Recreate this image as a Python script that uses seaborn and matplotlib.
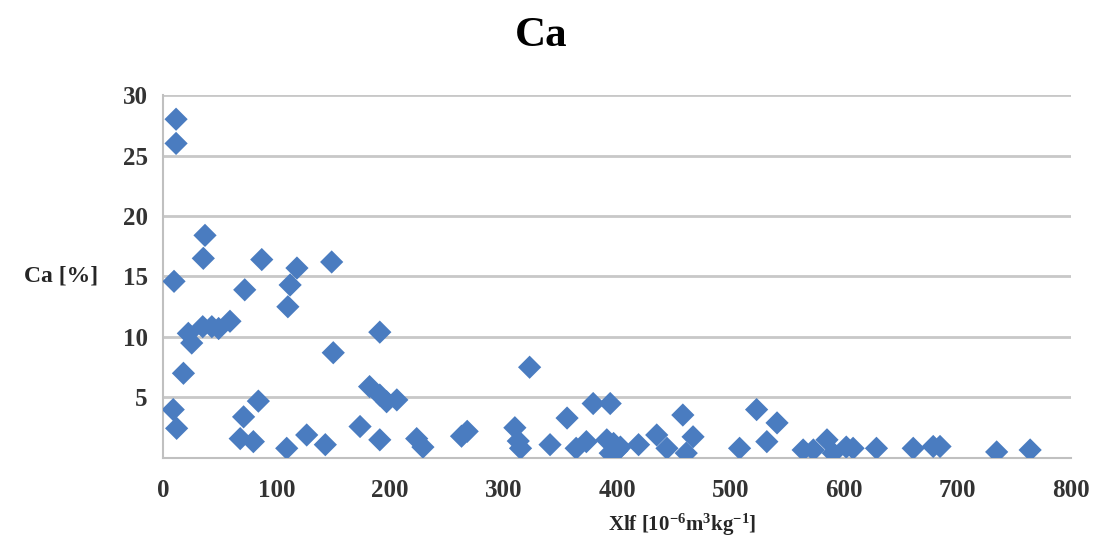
import pandas as pd
import matplotlib.pyplot as plt
import seaborn as sns

# data
xlf = [11.5, 11.5, 9.7, 37, 35.5, 22.3, 25.3, 35, 43, 49, 59, 18, 9, 12,
       72, 87, 84, 71, 68, 79.6, 109, 126.6, 143, 110, 112, 118, 148.6, 150,
       191, 182, 191, 197, 206, 173.6, 191, 223.5, 229, 263, 268,
       323, 310, 313, 315, 341, 356, 379, 394, 364, 373, 391, 394, 397, 400,
       403, 419, 435, 444, 458, 467, 461, 508, 523, 541, 532,
       564, 573, 585, 590.5, 602, 608, 628.6, 661, 678.6, 684.6, 734.5, 764]
ca = [28.0, 26.0, 14.6, 18.4, 16.5, 10.3, 9.5, 10.85, 10.85, 10.7, 11.3, 7.0, 4.0, 2.45,
      13.9, 16.4, 4.7, 3.4, 1.6, 1.35, 0.8, 1.9, 1.1, 12.5, 14.3, 15.7, 16.2, 8.7,
      10.4, 5.9, 5.2, 4.65, 4.8, 2.6, 1.5, 1.6, 0.9, 1.8, 2.2,
      7.5, 2.5, 1.4, 0.8, 1.1, 3.3, 4.5, 4.5, 0.8, 1.35, 1.5, 0.4, 1.2, 0.6,
      0.9, 1.1, 1.9, 0.8, 3.55, 1.75, 0.4, 0.8, 4.0, 2.9, 1.35,
      0.66, 0.66, 1.5, 0.4, 0.9, 0.8, 0.8, 0.8, 0.95, 0.95, 0.5, 0.66]

x_ticks = [0, 100, 200, 300, 400, 500, 600, 700, 800]
y_ticks = [5, 10, 15, 20, 25, 30]

df = pd.DataFrame({"xlf": xlf, "ca": ca})

sns.set_theme(style="white")
plt.rcParams["font.family"] = ["Liberation Serif", "DejaVu Serif"]
plt.rcParams["font.weight"] = "bold"
plt.rcParams["mathtext.fontset"] = "custom"
plt.rcParams["mathtext.rm"] = "Liberation Serif:bold"
plt.rcParams["mathtext.default"] = "rm"

fig = plt.figure(figsize=(10.97, 5.56), dpi=100)
ax = fig.add_axes([0.1486, 0.1763, 0.8277, 0.6528])

sns.scatterplot(data=df, x="xlf", y="ca", marker="D", s=140,
                color="#4a7cc0", edgecolor="none", ax=ax, zorder=3)

ax.set_xlim(0, 800)
ax.set_ylim(0, 30)
ax.set_xticks(x_ticks)
ax.set_yticks(y_ticks)
ax.tick_params(axis="both", labelsize=18, length=5, width=1.2,
               direction="out", colors="#bbbbbb", labelcolor="#333333")
ax.tick_params(axis="x", pad=10)
ax.tick_params(axis="y", pad=6)
for lab in ax.get_xticklabels() + ax.get_yticklabels():
    lab.set_fontweight("bold")

ax.grid(axis="y", color="#c8c8c8", linewidth=2)
ax.set_axisbelow(True)
for side in ["top", "right"]:
    ax.spines[side].set_visible(False)
for side in ["left", "bottom"]:
    ax.spines[side].set_color("#c0c0c0")
    ax.spines[side].set_linewidth(1.5)

ax.set_xlabel(r"Xlf [10$^{-6}$m$^{3}$kg$^{-1}$]", fontsize=15, fontweight="bold")
ax.xaxis.set_label_coords(0.572, -0.185)
ax.xaxis.label.set_va("center")
ax.set_ylabel("Ca [%]", fontsize=17, fontweight="bold", rotation=0,
              ha="right", va="center")
ax.yaxis.set_label_coords(-0.072, 0.5)

fig.text(0.493, 0.935, "Ca", ha="center", va="center", fontsize=31,
         fontweight="bold", color="black")

fig.savefig("out.png", dpi=100)
